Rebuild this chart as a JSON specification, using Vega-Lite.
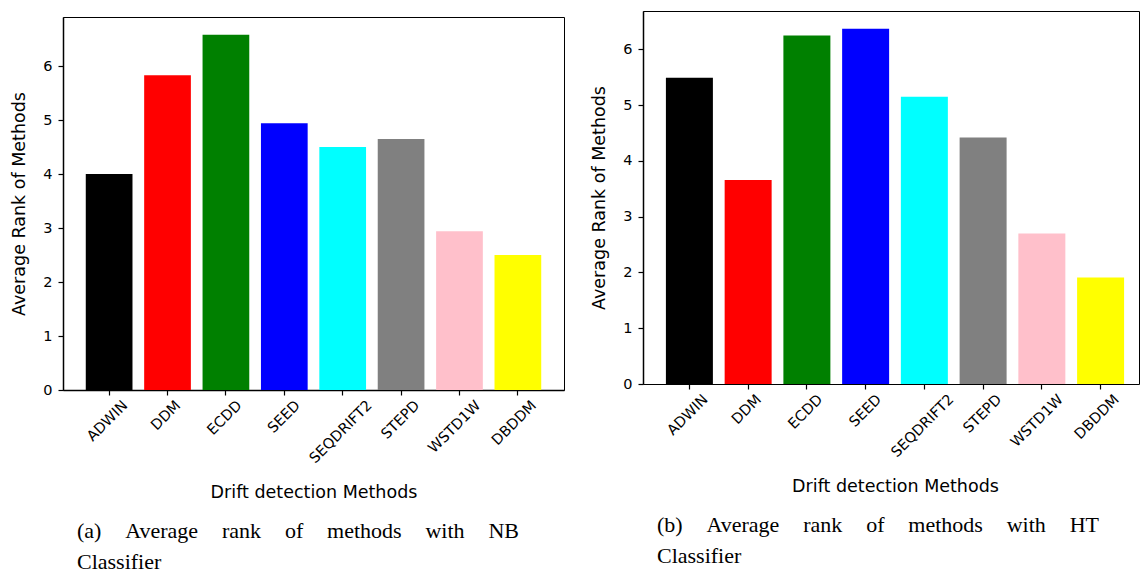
{
  "$schema": "https://vega.github.io/schema/vega-lite/v6.json",
  "background": "white",
  "padding": {"left": 9, "top": 10, "right": 0, "bottom": 0},
  "spacing": 24,
  "datasets": {
    "nb": [
      {"method": "ADWIN", "rank": 4.0},
      {"method": "DDM", "rank": 5.83},
      {"method": "ECDD", "rank": 6.58},
      {"method": "SEED", "rank": 4.94},
      {"method": "SEQDRIFT2", "rank": 4.5},
      {"method": "STEPD", "rank": 4.65},
      {"method": "WSTD1W", "rank": 2.94},
      {"method": "DBDDM", "rank": 2.5}
    ],
    "ht": [
      {"method": "ADWIN", "rank": 5.49},
      {"method": "DDM", "rank": 3.66},
      {"method": "ECDD", "rank": 6.25},
      {"method": "SEED", "rank": 6.37},
      {"method": "SEQDRIFT2", "rank": 5.15},
      {"method": "STEPD", "rank": 4.42},
      {"method": "WSTD1W", "rank": 2.7},
      {"method": "DBDDM", "rank": 1.91}
    ]
  },
  "hconcat": [
    {
      "spacing": 4,
      "vconcat": [
        {
          "width": 501,
          "height": 1,
          "data": {"values": []},
          "view": {"stroke": null},
          "mark": {"type": "rule"},
          "encoding": {}
        },
        {
          "width": 501,
          "height": 373,
          "data": {"name": "nb"},
          "title": {
            "text": ["(a)\u00a0\u00a0\u00a0\u00a0\u200aAverage\u00a0\u00a0\u00a0\u00a0\u200arank\u00a0\u00a0\u00a0\u00a0\u200aof\u00a0\u00a0\u00a0\u00a0\u200amethods\u00a0\u00a0\u00a0\u00a0\u200awith\u00a0\u00a0\u00a0\u00a0\u200aNB", "Classifier"]
          },
          "mark": {"type": "bar"},
          "encoding": {
            "x": {
              "field": "method", "type": "nominal", "sort": null,
              "scale": {"paddingInner": 0.2, "paddingOuter": 0.39},
              "axis": {
                "orient": "bottom",
                "title": "Drift detection Methods",
                "labelAngle": -45, "labelAlign": "right", "labelBaseline": "middle",
                "labelPadding": 8,
                "labelOffset": {"expr": "3 + 2.7*length(datum.label)"},
                "labelOverlap": false, "labelBound": false, "labelFlush": false,
                "tickSize": 5, "titlePadding": 18
              }
            },
            "y": {
              "field": "rank", "type": "quantitative",
              "scale": {"domain": [0, 6.909], "nice": false, "zero": true},
              "axis": {"values": [0, 1, 2, 3, 4, 5, 6], "format": "d", "title": "Average Rank of Methods", "tickSize": 5, "labelPadding": 6, "titlePadding": 14.5}
            },
            "color": {
              "field": "method", "type": "nominal", "legend": null,
              "scale": {
                "domain": ["ADWIN", "DDM", "ECDD", "SEED", "SEQDRIFT2", "STEPD", "WSTD1W", "DBDDM"],
                "range": ["#000000", "#ff0000", "#008000", "#0000ff", "#00ffff", "#808080", "#ffc0cb", "#ffff00"]
              }
            }
          }
        }
      ]
    },
    {
      "width": 496,
      "height": 373,
      "data": {"name": "ht"},
      "title": {
        "text": ["(b)\u00a0\u00a0\u00a0\u00a0\u200aAverage\u00a0\u00a0\u00a0\u00a0\u200arank\u00a0\u00a0\u00a0\u00a0\u200aof\u00a0\u00a0\u00a0\u00a0\u200amethods\u00a0\u00a0\u00a0\u00a0\u200awith\u00a0\u00a0\u00a0\u00a0\u200aHT", "Classifier"]
      },
      "mark": {"type": "bar"},
      "encoding": {
        "x": {
          "field": "method", "type": "nominal", "sort": null,
          "scale": {"paddingInner": 0.2, "paddingOuter": 0.39, "range": [0, 504]},
          "axis": {
            "orient": "bottom",
            "title": "Drift detection Methods",
            "domain": false,
            "labelAngle": -45, "labelAlign": "right", "labelBaseline": "middle",
            "labelPadding": 8,
            "labelOffset": {"expr": "3 + 2.7*length(datum.label)"},
            "labelOverlap": false, "labelBound": false, "labelFlush": false,
            "tickSize": 5, "titlePadding": 18
          }
        },
        "y": {
          "field": "rank", "type": "quantitative",
          "scale": {"domain": [0, 6.6885], "nice": false, "zero": true},
          "axis": {"values": [0, 1, 2, 3, 4, 5, 6], "format": "d", "title": "Average Rank of Methods", "tickSize": 5, "labelPadding": 6, "titlePadding": 14.5}
        },
        "color": {
          "field": "method", "type": "nominal", "legend": null,
          "scale": {
            "domain": ["ADWIN", "DDM", "ECDD", "SEED", "SEQDRIFT2", "STEPD", "WSTD1W", "DBDDM"],
            "range": ["#000000", "#ff0000", "#008000", "#0000ff", "#00ffff", "#808080", "#ffc0cb", "#ffff00"]
          }
        }
      }
    }
  ],
  "config": {
    "view": {"stroke": "#000000", "strokeWidth": 1},
    "axis": {
      "labelFont": "DejaVu Sans", "labelFontSize": 14.5, "labelColor": "#000000",
      "titleFont": "DejaVu Sans", "titleFontSize": 17.5, "titleFontWeight": "normal", "titleColor": "#000000",
      "tickColor": "#000000", "tickWidth": 1.2, "domainColor": "#000000", "domainWidth": 1.5, "grid": false
    },
    "title": {
      "orient": "bottom", "anchor": "start", "frame": "group", "dx": 14, "offset": 20,
      "font": "Liberation Serif", "fontSize": 22, "fontWeight": "normal", "color": "#000000", "lineHeight": 31
    }
  }
}
